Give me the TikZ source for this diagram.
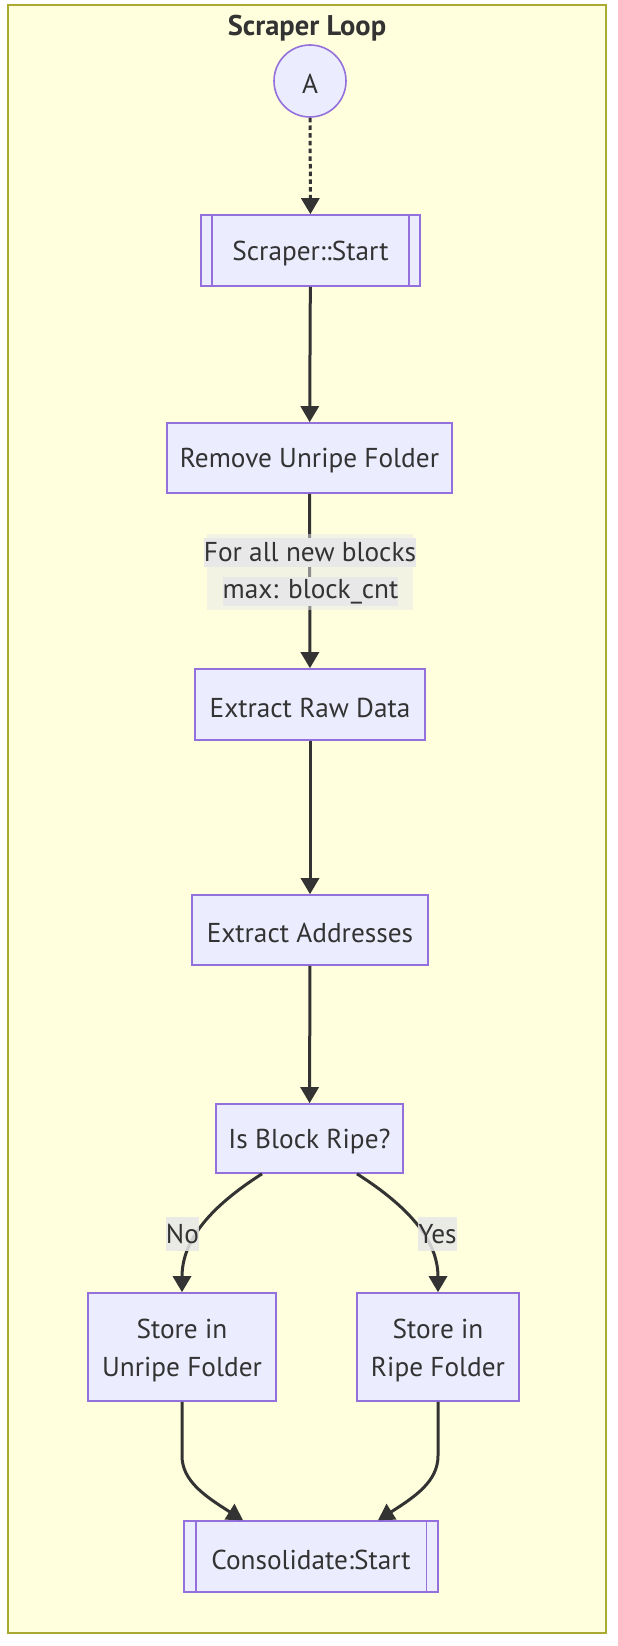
\documentclass[tikz,border=0pt]{standalone}
\usepackage{fontspec}
\setmainfont{PT Sans}
\usetikzlibrary{arrows.meta}
\definecolor{nodefill}{HTML}{ECECFF}
\definecolor{nodestroke}{HTML}{9370DB}
\definecolor{clfill}{HTML}{FFFFDE}
\definecolor{clstroke}{HTML}{AAAA33}
\definecolor{txt}{HTML}{333333}
\definecolor{edgecol}{HTML}{333333}
\definecolor{lbl}{HTML}{E8E8E8}
\begin{document}
\begin{tikzpicture}[x=1pt,y=-1pt,
  box/.style={draw=nodestroke, fill=nodefill, line width=1.6pt, inner sep=0pt},
  boxtext/.style={inner sep=0pt, text=txt, font=\fontsize{27.3}{38}\selectfont, align=center},
  subline/.style={draw=nodestroke, line width=1.6pt},
  flow/.style={draw=edgecol, line width=3pt,
    -{Triangle[length=16pt,width=18pt]}},
  dotflow/.style={flow, dash pattern=on 4.5pt off 3.2pt},
  lblbox/.style={fill=lbl, text=txt, inner sep=0pt, text opacity=1,
    font=\fontsize{27.3}{30}\selectfont},
  lblback/.style={fill=lbl, fill opacity=0.5, inner sep=0pt},
  cluster/.style={draw=clstroke, fill=clfill, line width=2pt},
  titlestyle/.style={text=txt, font=\bfseries\fontsize{28.5}{30}\selectfont}
]
\useasboundingbox (0,0) rectangle (618,1646);
\draw[cluster] (8,5.5) rectangle (606,1633);
\node[titlestyle] (title) at (307,28) {Scraper Loop};

\node[box, circle, minimum size=72pt] (a) at (310,81) {};
\node[box, minimum width=219pt, minimum height=71pt] (ss) at (310.5,250.5) {};
\draw[subline] ([xshift=12pt]ss.north west) -- ([xshift=12pt]ss.south west);
\draw[subline] ([xshift=-12pt]ss.north east) -- ([xshift=-12pt]ss.south east);
\node[box, minimum width=285pt, minimum height=70pt] (rm) at (309.5,458) {};
\node[box, minimum width=230pt, minimum height=71pt] (ex) at (310,704.5) {};
\node[box, minimum width=236pt, minimum height=70pt] (ad) at (310,930) {};
\node[box, minimum width=187pt, minimum height=69pt] (rp) at (309.5,1138.5) {};
\node[box, minimum width=188pt, minimum height=108pt] (su) at (182,1347) {};
\node[box, minimum width=162pt, minimum height=108pt] (sr) at (438,1347) {};
\node[box, minimum width=254pt, minimum height=71pt] (cs) at (311,1556.5) {};
\draw[subline] ([xshift=12.5pt]cs.north west) -- ([xshift=12.5pt]cs.south west);
\draw[subline] ([xshift=-12.5pt]cs.north east) -- ([xshift=-12.5pt]cs.south east);

\node[boxtext] (a-t) at ([yshift=-2.5pt]a.center) {A};
\node[boxtext] (ss-t) at ([yshift=-3pt]ss.center) {Scraper::Start};
\node[boxtext] (rm-t) at ([yshift=-3pt]rm.center) {Remove Unripe Folder};
\node[boxtext] (ex-t) at ([yshift=-3pt]ex.center) {Extract Raw Data};
\node[boxtext] (ad-t) at ([yshift=-3pt]ad.center) {Extract Addresses};
\node[boxtext] (rp-t) at ([yshift=-3pt]rp.center) {Is Block Ripe?};
\node[boxtext] (su-t) at ([yshift=-3.5pt]su.center) {Store in\\Unripe Folder};
\node[boxtext] (sr-t) at ([yshift=-3.5pt]sr.center) {Store in\\Ripe Folder};
\node[boxtext] (cs-t) at ([yshift=-3pt]cs.center) {Consolidate:Start};

\draw[dotflow] (a) -- (ss);
\draw[flow] (ss) -- (rm);
\draw[flow] (rm) -- (ex);
\draw[flow] (ex) -- (ad);
\draw[flow] (ad) -- (rp);
\draw[flow] ([xshift=-47.5pt]rp.south) .. controls +(-50,32) and +(0,-53) .. (su.north);
\draw[flow] ([xshift=47.5pt]rp.south) .. controls +(50,32) and +(0,-53) .. (sr.north);
\draw[flow] (su.south) -- ++(0,54) .. controls +(0,25) and +(-38,-24) .. ([xshift=-68pt]cs.north);
\draw[flow] (sr.south) -- ++(0,54) .. controls +(0,25) and +(38,-24) .. ([xshift=67pt]cs.north);

\node[lblback, minimum width=206pt, minimum height=76pt] (lb) at (310,572) {};
\node[lblbox, minimum width=206pt, minimum height=29pt] (l1) at (310,552.5) {For all new blocks};
\node[lblbox, minimum width=175pt, minimum height=29pt] (l2) at (310.5,591.5) {max: block\_cnt};
\node[lblbox, fill opacity=0.85, minimum width=29pt, minimum height=34pt] (no) at (182.5,1234) {No};
\node[lblbox, fill opacity=0.85, minimum width=37pt, minimum height=34pt] (yes) at (437.5,1234) {Yes};
\end{tikzpicture}
\end{document}
